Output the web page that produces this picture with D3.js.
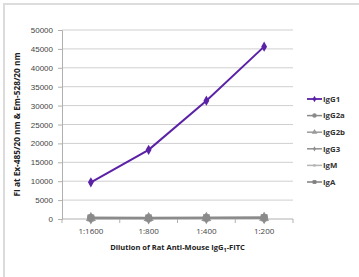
<!DOCTYPE html>
<html>
<head>
<meta charset="utf-8">
<script src="https://cdn.jsdelivr.net/npm/d3@7"></script>
<style>
  body { margin: 0; background: #fff; }
  svg { display: block; font-family: "Open Sans", "Liberation Sans", sans-serif; }
</style>
</head>
<body>
<div id="chart"></div>
<script>
var dilutions = ["1:1600", "1:800", "1:400", "1:200"];
var seriesNames = ["IgG1", "IgG2a", "IgG2b", "IgG3", "IgM", "IgA"];
var igg1 = [9700, 18300, 31300, 45600];
var igg2a = [300, 250, 300, 350];
var igg2b = [250, 250, 250, 300];
var igg3 = [200, 200, 250, 250];
var igm = [200, 200, 200, 250];
var iga = [300, 300, 350, 400];
var yTicks = [0, 5000, 10000, 15000, 20000, 25000, 30000, 35000, 40000, 45000, 50000];

var allValues = [igg1, igg2a, igg2b, igg3, igm, iga];
var colours = ["#5b21a6", "#8a8a8a", "#9a9a9a", "#8f8f8f", "#b5b5b5", "#7f7f7f"];
var symbols = [d3.symbolDiamond, d3.symbolCircle, d3.symbolTriangle, d3.symbolDiamond, d3.symbolSquare, d3.symbolSquare];
var symSize = [12, 16, 14, 8, 6, 14];

var width = 359, height = 277;
var margin = { top: 30, right: 66, bottom: 58, left: 62 };

var svg = d3.select("#chart").append("svg")
    .attr("width", width)
    .attr("height", height);

// frame (top + left only)
svg.append("line").attr("x1", 3).attr("x2", width).attr("y1", 4).attr("y2", 4)
    .attr("stroke", "#dcdcdc").attr("stroke-width", 2);
svg.append("line").attr("x1", 4).attr("x2", 4).attr("y1", 3).attr("y2", height)
    .attr("stroke", "#dcdcdc").attr("stroke-width", 2);

var x = d3.scalePoint()
    .domain(dilutions)
    .range([margin.left, width - margin.right])
    .padding(0.5);

var y = d3.scaleLinear()
    .domain([0, 50000])
    .range([height - margin.bottom, margin.top]);

var g = svg.append("g");

// gridlines
g.selectAll(".grid").data(yTicks.slice(1)).enter().append("line")
    .attr("x1", margin.left).attr("x2", width - margin.right)
    .attr("y1", function (d) { return y(d); }).attr("y2", function (d) { return y(d); })
    .attr("stroke", "#cfcfcf").attr("stroke-width", 1);

// y axis
var yAxis = g.append("g")
    .attr("transform", "translate(" + margin.left + ",0)")
    .call(d3.axisLeft(y).tickValues(yTicks).tickFormat(d3.format("d")).tickSize(4).tickPadding(5));
yAxis.select(".domain").attr("stroke", "#b0b0b0");
yAxis.selectAll(".tick line").attr("stroke", "#b0b0b0");
yAxis.selectAll("text").attr("fill", "#444").style("font-size", "8px");

// x axis
var step = x.step();
var xAxis = g.append("g")
    .attr("transform", "translate(0," + y(0) + ")");
xAxis.append("line").attr("x1", margin.left).attr("x2", width - margin.right)
    .attr("stroke", "#b0b0b0");
xAxis.selectAll(".xt").data(d3.range(dilutions.length + 1)).enter().append("line")
    .attr("x1", function (i) { return margin.left + i * step; })
    .attr("x2", function (i) { return margin.left + i * step; })
    .attr("y1", 0).attr("y2", 4)
    .attr("stroke", "#b0b0b0");
xAxis.selectAll(".xl").data(dilutions).enter().append("text")
    .attr("x", function (d) { return x(d); })
    .attr("y", 15)
    .attr("text-anchor", "middle")
    .attr("fill", "#444")
    .style("font-size", "8px")
    .text(function (d) { return d; });

// series (gray first, purple on top)
var line = d3.line()
    .x(function (d, i) { return x(dilutions[i]); })
    .y(function (d) { return y(d); });

[5, 4, 3, 2, 1, 0].forEach(function (s) {
    var vals = allValues[s];
    g.append("path")
        .datum(vals)
        .attr("fill", "none")
        .attr("stroke", colours[s])
        .attr("stroke-width", 2)
        .attr("d", line);
    g.selectAll(".pt" + s).data(vals).enter().append("path")
        .attr("transform", function (d, i) { return "translate(" + x(dilutions[i]) + "," + y(d) + ")"; })
        .attr("d", d3.symbol().type(symbols[s]).size(s === 0 ? 30 : 45))
        .attr("fill", colours[s]);
});

// legend
var legend = g.append("g").attr("transform", "translate(307,99)");
var row = legend.selectAll("g").data(seriesNames).enter().append("g")
    .attr("transform", function (d, i) { return "translate(0," + (i * 16.6) + ")"; });
row.append("line").attr("x1", 0).attr("x2", 15)
    .attr("stroke", function (d, i) { return colours[i]; })
    .attr("stroke-width", function (d, i) { return i === 0 ? 1.8 : 1.5; });
row.append("path")
    .attr("transform", "translate(7.5,0)")
    .attr("d", function (d, i) { return d3.symbol().type(symbols[i]).size(symSize[i])(); })
    .attr("fill", function (d, i) { return colours[i]; });
row.append("text")
    .attr("x", 16).attr("dy", "0.35em")
    .attr("fill", "#333")
    .style("font-size", "7.8px").style("font-weight", "bold")
    .text(function (d) { return d; });

// axis titles
var xt = svg.append("text")
    .attr("x", (margin.left + width - margin.right) / 2)
    .attr("y", 250)
    .attr("text-anchor", "middle")
    .attr("fill", "#222")
    .style("font-size", "7.5px").style("font-weight", "bold");
xt.append("tspan").text("Dilution of Rat Anti-Mouse IgG");
xt.append("tspan").attr("dy", 1.5).style("font-size", "5.5px").text("1");
xt.append("tspan").attr("dy", -1.5).text("-FITC");

svg.append("text")
    .attr("transform", "translate(20," + ((margin.top + height - margin.bottom) / 2) + ") rotate(-90)")
    .attr("text-anchor", "middle")
    .attr("fill", "#222")
    .style("font-size", "8.3px").style("font-weight", "bold")
    .text("FI at Ex-485/20 nm & Em-528/20 nm");
</script>
</body>
</html>
